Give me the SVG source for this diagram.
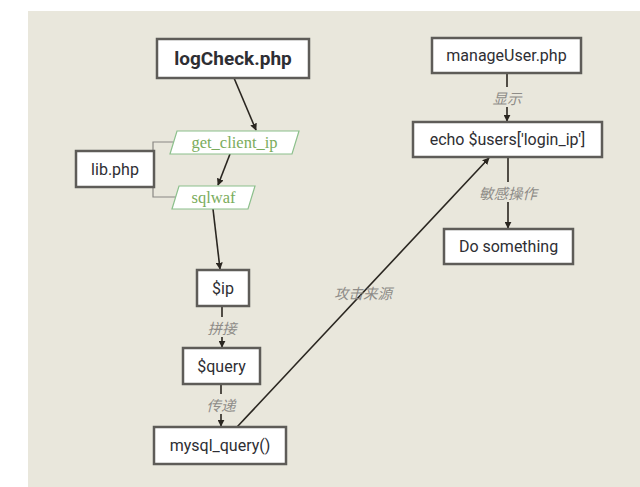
<svg xmlns="http://www.w3.org/2000/svg" width="640" height="487" viewBox="0 0 640 487">
<defs>
<marker id="ah" viewBox="0 0 10 10" refX="9" refY="5" markerWidth="7" markerHeight="7" orient="auto" markerUnits="userSpaceOnUse">
<path d="M0,0 L10,5 L0,10 z" fill="#2a2620"/>
</marker>
<style>
.box{fill:#fff;stroke:#5e5c58;stroke-width:2.5}
.para{fill:#fff;stroke:#8cc08c;stroke-width:1.2}
.t{font-family:Roboto,"Liberation Sans",sans-serif;font-size:16px;fill:#2e2e33;text-anchor:middle;dominant-baseline:central}
.tb{font-weight:bold;font-size:19px}
.g{font-family:"Liberation Serif",serif;font-size:16.5px;fill:#7aac5c;text-anchor:middle;dominant-baseline:central}
.e{fill:none;stroke:#2a2620;stroke-width:1.6}
.br{fill:none;stroke:#8a8884;stroke-width:1.2}
.l{font-family:"Noto Sans CJK SC",sans-serif;font-size:14.5px;font-style:italic;fill:#8e8c88;text-anchor:middle;dominant-baseline:central}
</style>
</defs>
<rect x="0" y="0" width="640" height="487" fill="#fff"/>
<rect x="28" y="11" width="612" height="476" fill="#e9e7dc"/>
<g id="connectors">
<path class="br" d="M177,142 H153 V197 H176"/>
<line class="e" x1="234" y1="78" x2="256" y2="130" marker-end="url(#ah)"/>
<line class="e" x1="230" y1="154" x2="218" y2="185" marker-end="url(#ah)"/>
<line class="e" x1="213" y1="209" x2="220" y2="269" marker-end="url(#ah)"/>
<line class="e" x1="222" y1="306" x2="222" y2="347" marker-end="url(#ah)"/>
<line class="e" x1="221" y1="384" x2="221" y2="426" marker-end="url(#ah)"/>
<line class="e" x1="237" y1="427" x2="489" y2="158" marker-end="url(#ah)"/>
<line class="e" x1="507" y1="73" x2="507" y2="121" marker-end="url(#ah)"/>
<line class="e" x1="508" y1="157" x2="508" y2="228" marker-end="url(#ah)"/>
<rect x="206" y="317" width="32" height="20" fill="#e9e7dc"/>
<text class="l" x="222" y="327">拼接</text>
<rect x="205" y="394" width="32" height="20" fill="#e9e7dc"/>
<text class="l" x="221" y="404">传递</text>
<rect x="491" y="87" width="32" height="20" fill="#e9e7dc"/>
<text class="l" x="507" y="97">显示</text>
<rect x="477" y="182" width="62" height="20" fill="#e9e7dc"/>
<text class="l" x="508" y="192">敏感操作</text>
<text class="l" x="363" y="292">攻击来源</text>
</g>
<g id="logCheck">
<rect class="box" x="157" y="39" width="152" height="39"/>
<text class="t tb" x="233" y="58.5">logCheck.php</text>
</g>
<g id="get_client_ip">
<polygon class="para" points="177,131 299,131 292,154 170,154"/>
<text class="g" x="234.5" y="142.5">get_client_ip</text>
</g>
<g id="lib">
<rect class="box" x="76" y="151" width="78" height="36"/>
<text class="t" x="115" y="169">lib.php</text>
</g>
<g id="sqlwaf">
<polygon class="para" points="179,186 255,186 248,209 172,209"/>
<text class="g" x="213.5" y="197.5">sqlwaf</text>
</g>
<g id="ip">
<rect class="box" x="197" y="270" width="52" height="36"/>
<text class="t" x="223" y="288">$ip</text>
</g>
<g id="query">
<rect class="box" x="183" y="348" width="77" height="36"/>
<text class="t" x="221.5" y="366">$query</text>
</g>
<g id="mysql">
<rect class="box" x="154" y="427" width="132" height="37"/>
<text class="t" x="220" y="445.5">mysql_query()</text>
</g>
<g id="manageUser">
<rect class="box" x="432" y="38" width="149" height="35"/>
<text class="t" x="506.5" y="55.5">manageUser.php</text>
</g>
<g id="echo">
<rect class="box" x="413" y="122" width="189" height="35"/>
<text class="t" x="507.5" y="139.5">echo $users['login_ip']</text>
</g>
<g id="doSomething">
<rect class="box" x="444" y="229" width="129" height="35"/>
<text class="t" x="508.5" y="246.5">Do something</text>
</g>
</svg>
